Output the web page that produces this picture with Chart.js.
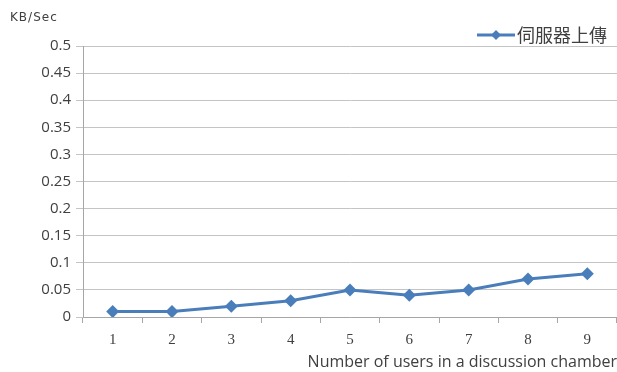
<!DOCTYPE html>
<html>
<head>
<meta charset="utf-8">
<script src="https://cdn.jsdelivr.net/npm/chart.js@4.4.1/dist/chart.umd.min.js"></script>
<style>
  html, body { margin: 0; padding: 0; background: #fff; }
  #wrap { width: 617px; height: 372px; }
</style>
</head>
<body>
<div id="wrap"><canvas id="c" width="617" height="372"></canvas></div>
<script>
// Upload rate measured at the server, by number of users in a chamber
const categories = ['1', '2', '3', '4', '5', '6', '7', '8', '9'];
const uploadRate = [0.01, 0.01, 0.02, 0.03, 0.05, 0.04, 0.05, 0.07, 0.08];
const seriesName = '伺服器上傳';
const yUnit = 'KB/Sec';
const xTitle = 'Number of users in a discussion chamber';

const lineColor = '#4a7ebb';

// Draws the unit label and the line-with-marker legend entry
const overlay = {
  id: 'overlay',
  afterDraw(chart) {
    const ctx = chart.ctx;
    ctx.save();
    ctx.fillStyle = '#404040';
    ctx.font = '12px "DejaVu Sans"';
    ctx.textBaseline = 'middle';
    ctx.textAlign = 'left';
    ctx.letterSpacing = '1px';
    ctx.fillText(yUnit, 10, 18);
    ctx.letterSpacing = '0px';

    const ly = 35;
    ctx.strokeStyle = lineColor;
    ctx.lineWidth = 3;
    ctx.beginPath();
    ctx.moveTo(477, ly);
    ctx.lineTo(515, ly);
    ctx.stroke();
    ctx.fillStyle = lineColor;
    ctx.beginPath();
    ctx.moveTo(496, ly - 5);
    ctx.lineTo(501, ly);
    ctx.lineTo(496, ly + 5);
    ctx.lineTo(491, ly);
    ctx.closePath();
    ctx.fill();

    ctx.fillStyle = '#404040';
    ctx.font = '18px "Noto Sans CJK TC"';
    ctx.fillText(seriesName, 517, ly);
    ctx.restore();
  }
};

new Chart(document.getElementById('c'), {
  type: 'line',
  data: {
    labels: categories,
    datasets: [{
      label: seriesName,
      data: uploadRate,
      borderColor: lineColor,
      backgroundColor: lineColor,
      borderWidth: 3,
      tension: 0,
      pointStyle: 'rectRot',
      pointRadius: 6.5,
      pointHoverRadius: 6.5,
      pointBorderWidth: 0
    }]
  },
  options: {
    responsive: false,
    animation: false,
    devicePixelRatio: 1,
    layout: { autoPadding: false, padding: { top: 46, right: 0, left: 0, bottom: 0 } },
    plugins: {
      legend: { display: false },
      tooltip: { enabled: false }
    },
    scales: {
      x: {
        offset: true,
        afterFit(scale) { scale.paddingLeft = 0; scale.paddingRight = 0; scale.height = 55; },
        grid: {
          offset: true,
          drawOnChartArea: false,
          drawTicks: true,
          tickLength: 6,
          color: '#a6a6a6'
        },
        border: { display: true, color: '#a6a6a6', width: 1 },
        ticks: {
          color: '#404040',
          font: { family: '"Liberation Serif"', size: 15 },
          padding: 8
        },
        title: {
          display: true,
          text: xTitle,
          align: 'end',
          color: '#404040',
          font: { family: '"Open Sans"', size: 16 },
          padding: { top: 2, bottom: 0 }
        }
      },
      y: {
        min: 0,
        max: 0.5,
        afterFit(scale) { scale.width = 83; scale.paddingTop = 0; scale.paddingBottom = 0; },
        grid: {
          color: '#c4c4c4',
          lineWidth: 1,
          tickLength: 7
        },
        border: { display: true, color: '#a6a6a6', width: 1 },
        ticks: {
          stepSize: 0.05,
          color: '#404040',
          font: { family: '"Open Sans"', size: 15 },
          padding: 5,
          callback: (v) => String(parseFloat(v.toFixed(2)))
        }
      }
    }
  },
  plugins: [overlay]
});
</script>
</body>
</html>
